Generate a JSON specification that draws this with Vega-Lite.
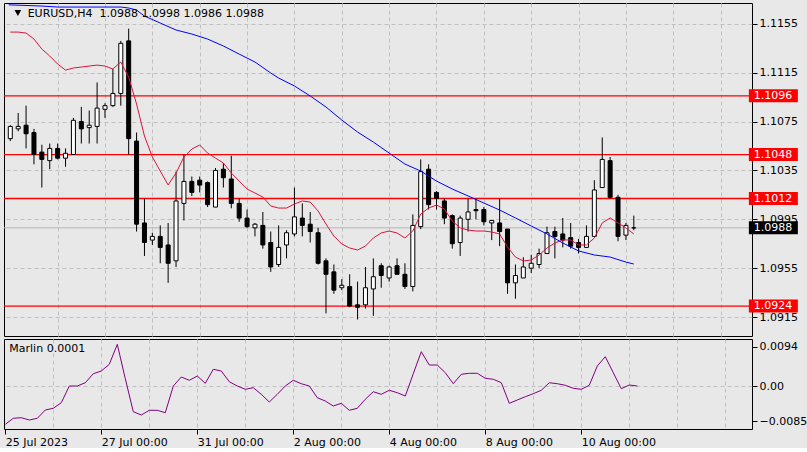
{
  "$schema": "https://vega.github.io/schema/vega-lite/v6.json",
  "background": "#e8e8e8",
  "padding": {"left": 2, "top": 2, "right": 0, "bottom": 0},
  "spacing": 1,
  "config": {
    "view": {"stroke": "#000000", "strokeWidth": 1},
    "font": "DejaVu Sans",
    "axis": {
      "labelFont": "DejaVu Sans",
      "labelFontSize": 11,
      "labelColor": "#000000",
      "tickColor": "#000000",
      "tickSize": 5,
      "domain": false,
      "gridColor": "#c0c0c0",
      "gridDash": [4, 3],
      "gridWidth": 1,
      "zindex": 0,
      "title": null,
      "labelFlush": false,
      "labelOverlap": false,
      "labelBound": false
    }
  },
  "datasets": {
    "candles": [
      {"i": 0, "o": 1.1061, "h": 1.1072, "l": 1.1059, "c": 1.1071},
      {"i": 1, "o": 1.1069, "h": 1.1082, "l": 1.1067, "c": 1.1071},
      {"i": 2, "o": 1.1072, "h": 1.1088, "l": 1.1053, "c": 1.1065},
      {"i": 3, "o": 1.1066, "h": 1.1069, "l": 1.1040, "c": 1.1048},
      {"i": 4, "o": 1.1050, "h": 1.1056, "l": 1.1021, "c": 1.1044},
      {"i": 5, "o": 1.1043, "h": 1.1057, "l": 1.1036, "c": 1.1053},
      {"i": 6, "o": 1.1053, "h": 1.1057, "l": 1.1044, "c": 1.1045},
      {"i": 7, "o": 1.1045, "h": 1.1053, "l": 1.1038, "c": 1.1049},
      {"i": 8, "o": 1.1048, "h": 1.1078, "l": 1.1048, "c": 1.1076},
      {"i": 9, "o": 1.1075, "h": 1.1087, "l": 1.1057, "c": 1.1069},
      {"i": 10, "o": 1.1070, "h": 1.1084, "l": 1.1057, "c": 1.1072},
      {"i": 11, "o": 1.1071, "h": 1.1107, "l": 1.1057, "c": 1.1086},
      {"i": 12, "o": 1.1085, "h": 1.1090, "l": 1.1078, "c": 1.1088},
      {"i": 13, "o": 1.1088, "h": 1.1118, "l": 1.1087, "c": 1.1098},
      {"i": 14, "o": 1.1098, "h": 1.1141, "l": 1.1088, "c": 1.1139},
      {"i": 15, "o": 1.1141, "h": 1.1151, "l": 1.1048, "c": 1.1061},
      {"i": 16, "o": 1.1059, "h": 1.1066, "l": 1.0985, "c": 1.0991},
      {"i": 17, "o": 1.0992, "h": 1.1012, "l": 1.0965, "c": 1.0976},
      {"i": 18, "o": 1.0978, "h": 1.0984, "l": 1.0974, "c": 1.0981},
      {"i": 19, "o": 1.0981, "h": 1.0990, "l": 1.0959, "c": 1.0972},
      {"i": 20, "o": 1.0974, "h": 1.0992, "l": 1.0943, "c": 1.0959},
      {"i": 21, "o": 1.0961, "h": 1.1034, "l": 1.0956, "c": 1.1010},
      {"i": 22, "o": 1.1008, "h": 1.1048, "l": 1.0994, "c": 1.1026},
      {"i": 23, "o": 1.1026, "h": 1.1030, "l": 1.1014, "c": 1.1017},
      {"i": 24, "o": 1.1027, "h": 1.1030, "l": 1.1017, "c": 1.1023},
      {"i": 25, "o": 1.1025, "h": 1.1026, "l": 1.1005, "c": 1.1007},
      {"i": 26, "o": 1.1005, "h": 1.1037, "l": 1.1005, "c": 1.1035},
      {"i": 27, "o": 1.1036, "h": 1.1041, "l": 1.1021, "c": 1.1029},
      {"i": 28, "o": 1.1028, "h": 1.1047, "l": 1.1004, "c": 1.1008},
      {"i": 29, "o": 1.1008, "h": 1.1012, "l": 1.0993, "c": 1.0996},
      {"i": 30, "o": 1.0996, "h": 1.1003, "l": 1.0988, "c": 1.0989},
      {"i": 31, "o": 1.0988, "h": 1.0992, "l": 1.0981, "c": 1.0991},
      {"i": 32, "o": 1.0990, "h": 1.1001, "l": 1.0971, "c": 1.0974},
      {"i": 33, "o": 1.0976, "h": 1.0985, "l": 1.0952, "c": 1.0956},
      {"i": 34, "o": 1.0958, "h": 1.0990, "l": 1.0956, "c": 1.0972},
      {"i": 35, "o": 1.0974, "h": 1.0986, "l": 1.0963, "c": 1.0984},
      {"i": 36, "o": 1.0983, "h": 1.1021, "l": 1.0981, "c": 1.0997},
      {"i": 37, "o": 1.0996, "h": 1.1008, "l": 1.0981, "c": 1.0990},
      {"i": 38, "o": 1.0991, "h": 1.1001, "l": 1.0976, "c": 1.0985},
      {"i": 39, "o": 1.0984, "h": 1.0988, "l": 1.0958, "c": 1.0959},
      {"i": 40, "o": 1.0961, "h": 1.0963, "l": 1.0918, "c": 1.0950},
      {"i": 41, "o": 1.0952, "h": 1.0958, "l": 1.0934, "c": 1.0937},
      {"i": 42, "o": 1.0939, "h": 1.0946, "l": 1.0937, "c": 1.0941},
      {"i": 43, "o": 1.0940, "h": 1.0950, "l": 1.0923, "c": 1.0924},
      {"i": 44, "o": 1.0925, "h": 1.0944, "l": 1.0913, "c": 1.0923},
      {"i": 45, "o": 1.0925, "h": 1.0956, "l": 1.0922, "c": 1.0939},
      {"i": 46, "o": 1.0938, "h": 1.0963, "l": 1.0916, "c": 1.0948},
      {"i": 47, "o": 1.0957, "h": 1.0959, "l": 1.0939, "c": 1.0949},
      {"i": 48, "o": 1.0947, "h": 1.0957, "l": 1.0944, "c": 1.0956},
      {"i": 49, "o": 1.0957, "h": 1.0963, "l": 1.0950, "c": 1.0950},
      {"i": 50, "o": 1.0950, "h": 1.0959, "l": 1.0938, "c": 1.0940},
      {"i": 51, "o": 1.0940, "h": 1.0999, "l": 1.0936, "c": 1.0990},
      {"i": 52, "o": 1.0989, "h": 1.1044, "l": 1.0987, "c": 1.1034},
      {"i": 53, "o": 1.1036, "h": 1.1040, "l": 1.1003, "c": 1.1007},
      {"i": 54, "o": 1.1017, "h": 1.1018, "l": 1.1003, "c": 1.1012},
      {"i": 55, "o": 1.1010, "h": 1.1012, "l": 1.0991, "c": 1.0996},
      {"i": 56, "o": 1.0998, "h": 1.0999, "l": 1.0971, "c": 1.0975},
      {"i": 57, "o": 1.0976, "h": 1.0998, "l": 1.0965, "c": 1.0996},
      {"i": 58, "o": 1.0995, "h": 1.1012, "l": 1.0985, "c": 1.1001},
      {"i": 59, "o": 1.1003, "h": 1.1012, "l": 1.0995, "c": 1.1002},
      {"i": 60, "o": 1.1003, "h": 1.1005, "l": 1.0990, "c": 1.0993},
      {"i": 61, "o": 1.0992, "h": 1.0994, "l": 1.0978, "c": 1.0994},
      {"i": 62, "o": 1.0992, "h": 1.1012, "l": 1.0973, "c": 1.0985},
      {"i": 63, "o": 1.0987, "h": 1.0987, "l": 1.0934, "c": 1.0943},
      {"i": 64, "o": 1.0943, "h": 1.0958, "l": 1.0930, "c": 1.0949},
      {"i": 65, "o": 1.0947, "h": 1.0964, "l": 1.0947, "c": 1.0956},
      {"i": 66, "o": 1.0955, "h": 1.0966, "l": 1.0951, "c": 1.0959},
      {"i": 67, "o": 1.0958, "h": 1.0971, "l": 1.0955, "c": 1.0967},
      {"i": 68, "o": 1.0967, "h": 1.0989, "l": 1.0967, "c": 1.0984},
      {"i": 69, "o": 1.0985, "h": 1.0989, "l": 1.0963, "c": 1.0981},
      {"i": 70, "o": 1.0983, "h": 1.0996, "l": 1.0972, "c": 1.0978},
      {"i": 71, "o": 1.0980, "h": 1.0992, "l": 1.0971, "c": 1.0973},
      {"i": 72, "o": 1.0976, "h": 1.0979, "l": 1.0967, "c": 1.0972},
      {"i": 73, "o": 1.0972, "h": 1.0990, "l": 1.0972, "c": 1.0981},
      {"i": 74, "o": 1.0981, "h": 1.1027, "l": 1.0981, "c": 1.1019},
      {"i": 75, "o": 1.1021, "h": 1.1062, "l": 1.1021, "c": 1.1044},
      {"i": 76, "o": 1.1043, "h": 1.1046, "l": 1.1012, "c": 1.1013},
      {"i": 77, "o": 1.1013, "h": 1.1015, "l": 1.0977, "c": 1.0981},
      {"i": 78, "o": 1.0982, "h": 1.0992, "l": 1.0978, "c": 1.0990},
      {"i": 79, "o": 1.0988, "h": 1.0998, "l": 1.0986, "c": 1.0988}
    ],
    "fast": [
      {"i": 0, "v": 1.11482}, {"i": 1, "v": 1.11482}, {"i": 2, "v": 1.11474}, {"i": 3, "v": 1.11425},
      {"i": 4, "v": 1.11343}, {"i": 5, "v": 1.11286}, {"i": 6, "v": 1.1122}, {"i": 7, "v": 1.11171},
      {"i": 8, "v": 1.11188}, {"i": 9, "v": 1.11196}, {"i": 10, "v": 1.11204}, {"i": 11, "v": 1.11212},
      {"i": 12, "v": 1.11204}, {"i": 13, "v": 1.1118}, {"i": 14, "v": 1.11237}, {"i": 15, "v": 1.11114},
      {"i": 16, "v": 1.10893}, {"i": 17, "v": 1.10631}, {"i": 18, "v": 1.1046}, {"i": 19, "v": 1.10345},
      {"i": 20, "v": 1.10231}, {"i": 21, "v": 1.10329}, {"i": 22, "v": 1.1046}, {"i": 23, "v": 1.10525},
      {"i": 24, "v": 1.10558}, {"i": 25, "v": 1.10492}, {"i": 26, "v": 1.10451}, {"i": 27, "v": 1.10411},
      {"i": 28, "v": 1.10329}, {"i": 29, "v": 1.10263}, {"i": 30, "v": 1.10198}, {"i": 31, "v": 1.10165},
      {"i": 32, "v": 1.10132}, {"i": 33, "v": 1.10059}, {"i": 34, "v": 1.10042}, {"i": 35, "v": 1.10042},
      {"i": 36, "v": 1.10075}, {"i": 37, "v": 1.101}, {"i": 38, "v": 1.10091}, {"i": 39, "v": 1.10018},
      {"i": 40, "v": 1.09911}, {"i": 41, "v": 1.09813}, {"i": 42, "v": 1.09748}, {"i": 43, "v": 1.09715},
      {"i": 44, "v": 1.09699}, {"i": 45, "v": 1.09731}, {"i": 46, "v": 1.09797}, {"i": 47, "v": 1.09838},
      {"i": 48, "v": 1.09854}, {"i": 49, "v": 1.09838}, {"i": 50, "v": 1.09797}, {"i": 51, "v": 1.09854},
      {"i": 52, "v": 1.09993}, {"i": 53, "v": 1.10042}, {"i": 54, "v": 1.10067}, {"i": 55, "v": 1.10034},
      {"i": 56, "v": 1.09936}, {"i": 57, "v": 1.09879}, {"i": 58, "v": 1.09862}, {"i": 59, "v": 1.09854},
      {"i": 60, "v": 1.09854}, {"i": 61, "v": 1.09846}, {"i": 62, "v": 1.0983}, {"i": 63, "v": 1.09723},
      {"i": 64, "v": 1.09641}, {"i": 65, "v": 1.09609}, {"i": 66, "v": 1.09617}, {"i": 67, "v": 1.09658},
      {"i": 68, "v": 1.09715}, {"i": 69, "v": 1.09756}, {"i": 70, "v": 1.09781}, {"i": 71, "v": 1.09781},
      {"i": 72, "v": 1.0974}, {"i": 73, "v": 1.0974}, {"i": 74, "v": 1.09797}, {"i": 75, "v": 1.0992},
      {"i": 76, "v": 1.09961}, {"i": 77, "v": 1.0992}, {"i": 78, "v": 1.09879}, {"i": 79, "v": 1.0983}
    ],
    "slow": [
      {"i": -0.2, "v": 1.11705}, {"i": 4, "v": 1.11695}, {"i": 6, "v": 1.11687}, {"i": 14, "v": 1.11687},
      {"i": 15, "v": 1.11679}, {"i": 16, "v": 1.11662}, {"i": 17, "v": 1.11613}, {"i": 19, "v": 1.11556},
      {"i": 21, "v": 1.11499}, {"i": 23, "v": 1.11466}, {"i": 25, "v": 1.11425}, {"i": 27, "v": 1.11368},
      {"i": 29, "v": 1.11302}, {"i": 31, "v": 1.11237}, {"i": 33, "v": 1.11147}, {"i": 34, "v": 1.11106},
      {"i": 36, "v": 1.11041}, {"i": 38, "v": 1.10959}, {"i": 40, "v": 1.10869}, {"i": 42, "v": 1.10762},
      {"i": 44, "v": 1.10664}, {"i": 46, "v": 1.10582}, {"i": 48, "v": 1.10492}, {"i": 50, "v": 1.10402},
      {"i": 52, "v": 1.10345}, {"i": 54, "v": 1.10263}, {"i": 56, "v": 1.10198}, {"i": 58, "v": 1.10141},
      {"i": 60, "v": 1.10083}, {"i": 62, "v": 1.10026}, {"i": 64, "v": 1.09961}, {"i": 66, "v": 1.09895},
      {"i": 68, "v": 1.0983}, {"i": 70, "v": 1.09756}, {"i": 72, "v": 1.09691}, {"i": 74, "v": 1.09658},
      {"i": 76, "v": 1.09641}, {"i": 78, "v": 1.096}, {"i": 79, "v": 1.09584}
    ],
    "marlin": [
      {"i": 0, "v": -0.00919}, {"i": 1, "v": -0.00775}, {"i": 2, "v": -0.00761}, {"i": 3, "v": -0.00816},
      {"i": 4, "v": -0.00775}, {"i": 5, "v": -0.00576}, {"i": 6, "v": -0.00535}, {"i": 7, "v": -0.00401},
      {"i": 8, "v": 0.0}, {"i": 9, "v": 0.0}, {"i": 10, "v": 0.00079}, {"i": 11, "v": 0.00295},
      {"i": 12, "v": 0.0036}, {"i": 13, "v": 0.00521}, {"i": 14, "v": 0.01}, {"i": 15, "v": 0.00175},
      {"i": 16, "v": -0.00617}, {"i": 17, "v": -0.00696}, {"i": 18, "v": -0.00583}, {"i": 19, "v": -0.00583},
      {"i": 20, "v": -0.00641}, {"i": 21, "v": 0.0}, {"i": 22, "v": 0.00216}, {"i": 23, "v": 0.00137},
      {"i": 24, "v": 0.0024}, {"i": 25, "v": 0.00065}, {"i": 26, "v": 0.00401}, {"i": 27, "v": 0.0036},
      {"i": 28, "v": 0.00103}, {"i": 29, "v": 0.0}, {"i": 30, "v": -0.00079}, {"i": 31, "v": -0.00041},
      {"i": 32, "v": -0.00199}, {"i": 33, "v": -0.00384}, {"i": 34, "v": -0.00199}, {"i": 35, "v": 0.0},
      {"i": 36, "v": 0.00137}, {"i": 37, "v": 0.00055}, {"i": 38, "v": 0.0}, {"i": 39, "v": -0.00281},
      {"i": 40, "v": -0.0036}, {"i": 41, "v": -0.0048}, {"i": 42, "v": -0.00415}, {"i": 43, "v": -0.00583},
      {"i": 44, "v": -0.00535}, {"i": 45, "v": -0.00319}, {"i": 46, "v": -0.00137}, {"i": 47, "v": -0.00199},
      {"i": 48, "v": -0.00103}, {"i": 49, "v": -0.00161}, {"i": 50, "v": -0.0024}, {"i": 51, "v": 0.00295},
      {"i": 52, "v": 0.00823}, {"i": 53, "v": 0.00504}, {"i": 54, "v": 0.00504}, {"i": 55, "v": 0.00319},
      {"i": 56, "v": 0.00055}, {"i": 57, "v": 0.00281}, {"i": 58, "v": 0.00305}, {"i": 59, "v": 0.00305},
      {"i": 60, "v": 0.00185}, {"i": 61, "v": 0.00161}, {"i": 62, "v": 0.00079}, {"i": 63, "v": -0.00415},
      {"i": 64, "v": -0.00336}, {"i": 65, "v": -0.00257}, {"i": 66, "v": -0.00185}, {"i": 67, "v": -0.00103},
      {"i": 68, "v": 0.00079}, {"i": 69, "v": 0.00055}, {"i": 70, "v": 0.00017}, {"i": 71, "v": -0.00055},
      {"i": 72, "v": -0.00079}, {"i": 73, "v": 0.00017}, {"i": 74, "v": 0.0048}, {"i": 75, "v": 0.00703},
      {"i": 76, "v": 0.00319}, {"i": 77, "v": -0.00065}, {"i": 78, "v": 0.00024}, {"i": 79, "v": 0.0}
    ],
    "levels": [
      {"p": 1.1096}, {"p": 1.1048}, {"p": 1.1012}, {"p": 1.0924}
    ],
    "bid": [
      {"p": 1.0988}
    ]
  },
  "vconcat": [
    {
      "width": 748,
      "height": 333,
      "layer": [
        {
          "data": {"name": "bid"},
          "mark": {"type": "rule", "color": "#b4b4b4", "strokeWidth": 1},
          "encoding": {
            "y": {
              "field": "p",
              "type": "quantitative",
              "scale": {"domain": [1.08995, 1.1172], "nice": false, "zero": false},
              "axis": {
                "orient": "right",
                "values": [1.1155, 1.1115, 1.1075, 1.1035, 1.0995, 1.0955, 1.0915],
                "format": ".4f",
                "labelPadding": 2,
                "grid": true
              }
            }
          }
        },
        {
          "data": {"name": "levels"},
          "mark": {"type": "rule", "color": "#ff0000", "strokeWidth": 1.3},
          "encoding": {"y": {"field": "p", "type": "quantitative"}}
        },
        {
          "data": {"name": "candles"},
          "mark": {"type": "rule", "color": "#000000", "strokeWidth": 1},
          "encoding": {
            "x": {
              "field": "i",
              "type": "quantitative",
              "scale": {"domain": [-0.1625, 93.34], "nice": false, "zero": false},
              "axis": {
                "values": [0, 6, 12, 18, 24, 30, 36, 42, 48, 54, 60, 66, 72, 78, 84, 90],
                "labels": false,
                "ticks": false,
                "grid": true,
                "gridOpacity": {"condition": {"test": "datum.value == 0", "value": 0}, "value": 1}
              }
            },
            "y": {"field": "l", "type": "quantitative"},
            "y2": {"field": "h"}
          }
        },
        {
          "data": {"name": "candles"},
          "mark": {"type": "bar", "size": 4, "stroke": "#000000", "strokeWidth": 1},
          "encoding": {
            "x": {"field": "i", "type": "quantitative"},
            "y": {"field": "o", "type": "quantitative"},
            "y2": {"field": "c"},
            "fill": {
              "condition": {"test": "datum.c >= datum.o", "value": "#ffffff"},
              "value": "#000000"
            }
          }
        },
        {
          "data": {"name": "fast"},
          "mark": {"type": "line", "color": "#dc143c", "strokeWidth": 1},
          "encoding": {
            "x": {"field": "i", "type": "quantitative"},
            "y": {"field": "v", "type": "quantitative"}
          }
        },
        {
          "data": {"name": "slow"},
          "mark": {"type": "line", "color": "#0000ff", "strokeWidth": 1, "clip": true},
          "encoding": {
            "x": {"field": "i", "type": "quantitative"},
            "y": {"field": "v", "type": "quantitative"}
          }
        },
        {
          "data": {"values": [{}]},
          "mark": {"type": "point", "shape": "triangle-down", "size": 45, "filled": true, "color": "#000000", "opacity": 1},
          "encoding": {
            "x": {"datum": 0.96},
            "y": {"datum": 1.11638}
          }
        },
        {
          "data": {"values": [{}]},
          "mark": {
            "type": "text",
            "text": "EURUSD,H4\u00a0\u00a01.0988 1.0998 1.0986 1.0988",
            "align": "left",
            "baseline": "middle",
            "font": "DejaVu Sans",
            "fontSize": 11,
            "color": "#000000"
          },
          "encoding": {
            "x": {"datum": 2.2},
            "y": {"datum": 1.11632}
          }
        },
        {
          "data": {"name": "levels"},
          "mark": {"type": "tick", "orient": "horizontal", "size": 49, "thickness": 13, "color": "#ff0000", "opacity": 1},
          "encoding": {
            "x": {"datum": 96.68},
            "y": {"field": "p", "type": "quantitative"}
          }
        },
        {
          "data": {"name": "levels"},
          "mark": {"type": "text", "align": "left", "baseline": "middle", "font": "DejaVu Sans", "fontSize": 11, "color": "#ffffff"},
          "encoding": {
            "x": {"datum": 94.2},
            "y": {"field": "p", "type": "quantitative"},
            "text": {"field": "p", "type": "quantitative", "format": ".4f"}
          }
        },
        {
          "data": {"name": "bid"},
          "mark": {"type": "tick", "orient": "horizontal", "size": 49, "thickness": 13, "color": "#000000", "opacity": 1},
          "encoding": {
            "x": {"datum": 96.68},
            "y": {"field": "p", "type": "quantitative"}
          }
        },
        {
          "data": {"name": "bid"},
          "mark": {"type": "text", "align": "left", "baseline": "middle", "font": "DejaVu Sans", "fontSize": 11, "color": "#ffffff"},
          "encoding": {
            "x": {"datum": 94.2},
            "y": {"field": "p", "type": "quantitative"},
            "text": {"field": "p", "type": "quantitative", "format": ".4f"}
          }
        }
      ]
    },
    {
      "width": 748,
      "height": 90,
      "layer": [
        {
          "data": {"name": "marlin"},
          "mark": {"type": "line", "color": "#800080", "strokeWidth": 1},
          "encoding": {
            "x": {
              "field": "i",
              "type": "quantitative",
              "scale": {"domain": [-0.1625, 93.34], "nice": false, "zero": false},
              "axis": {
                "values": [0, 6, 12, 18, 24, 30, 36, 42, 48, 54, 60, 66, 72, 78, 84, 90],
                "grid": true,
                "gridOpacity": {"condition": {"test": "datum.value == 0", "value": 0}, "value": 1},
                "tickOpacity": {"condition": {"test": "datum.value % 12 == 0 && datum.value <= 72", "value": 1}, "value": 0},
                "labelExpr": "datum.value % 12 == 0 && datum.value <= 72 ? ['25 Jul 2023', '27 Jul 00:00', '31 Jul 00:00', '2 Aug 00:00', '4 Aug 00:00', '8 Aug 00:00', '10 Aug 00:00'][datum.value / 12] : ''",
                "labelAlign": "left",
                "labelPadding": 2
              }
            },
            "y": {
              "field": "v",
              "type": "quantitative",
              "scale": {"domain": [-0.01032, 0.01128], "nice": false, "zero": false},
              "axis": {
                "orient": "right",
                "values": [0.0094, 0, -0.0085],
                "labelExpr": "datum.value == 0 ? '0.00' : format(datum.value, '.4f')",
                "labelPadding": 2,
                "grid": true,
                "gridOpacity": {"condition": {"test": "datum.value == 0", "value": 1}, "value": 0}
              }
            }
          }
        },
        {
          "data": {"values": [{}]},
          "mark": {
            "type": "text",
            "text": "Marlin 0.0001",
            "align": "left",
            "baseline": "middle",
            "font": "DejaVu Sans",
            "fontSize": 11,
            "color": "#000000"
          },
          "encoding": {
            "x": {"datum": 0.5},
            "y": {"datum": 0.0088}
          }
        }
      ]
    }
  ]
}
